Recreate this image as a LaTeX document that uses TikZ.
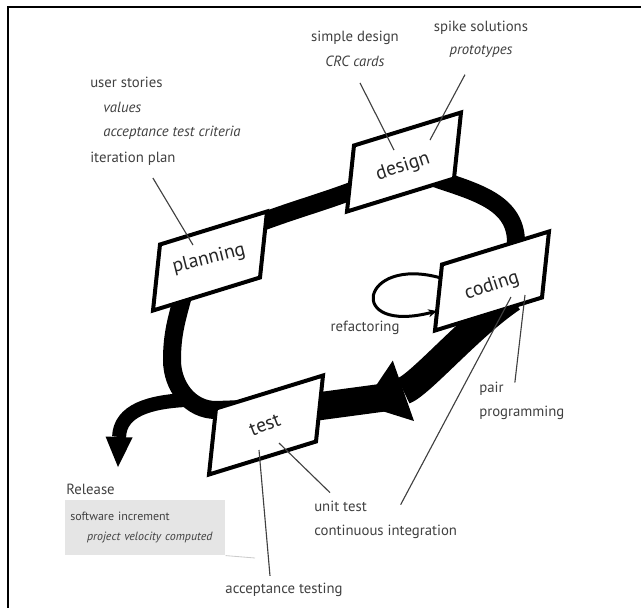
\documentclass[tikz,border=0pt]{standalone}
\usepackage{fontspec}
\setmainfont{PT Sans}
\usetikzlibrary{arrows.meta,calc,backgrounds}

\begin{document}
\begin{tikzpicture}[x=0.025cm, y=0.025cm,
					cardline/.style={draw=black,
					line width=0.1cm,
					fill=white},
					cardtext/.style={inner sep=0pt,
					text=black!85,
					font=\fontsize{14}{16}\selectfont},
					notenode/.style={inner sep=0pt,
					align=left,
					text=black!75,
					font=\fontsize{10.5}{17.5}\selectfont},
					loopband/.style={line width=0.45cm, black},
					wideband/.style={line width=0.7cm, black},
					releaseband/.style={line width=0.35cm, black},
					pointer/.style={black!75, line width=0.8pt}
					]

% fixed size, as the scanned page
\useasboundingbox (0,0) rectangle (641,-608);
\draw[line width=1.4pt] (7,-7) -- (641,-7);
\draw[line width=1.4pt] (8,-7) -- (8,-608);

%card centres
\coordinate (planningcard) at (210,-261);
\coordinate (designcard) at (404,-162);
\coordinate (codingcard) at (492,-281);
\coordinate (testcard) at (266,-425);

%card texts
\node[cardtext, rotate=14] (planning) at ($(planningcard)+(-1,2)$) {planning};
\node[cardtext, rotate=18] (design) at ($(designcard)+(-1,-5)$) {design};
\node[cardtext, rotate=18] (coding) at ($(codingcard)+(0,-5)$) {coding};
\node[cardtext, rotate=21] (test) at ($(testcard)+(-1,0)$) {test};

%tips of the big arrows
\coordinate (codetip) at (363,-405);
\coordinate (reltip) at (118,-467);

%the big loop and the cards go behind the texts
\begin{pgfonlayer}{background}
\draw[loopband] ($(testcard)+(-22,16)$) -- ($(testcard)+(-50,15)$) to[out=180,in=-90] ($(testcard)+(-94,65)$) to[out=90,in=-105] ($(planningcard)+(-26,-31)$);
\draw[loopband] ($(planningcard)+(43,36)$) -- ($(planningcard)+(57,41)$) to[out=20,in=200] ($(designcard)+(-55,-30)$) -- ($(designcard)+(-30,-20)$);
\draw[loopband] ($(designcard)+(25,-14)$) to[out=-20,in=90] ($(codingcard)+(24,39)$) -- ($(codingcard)+(24,10)$);
\draw[wideband, -{Triangle[length=1.07cm, width=1.6cm, line width=0pt]}] ($(codingcard)+(20,-17)$) .. controls ($(codingcard)+(-22,-45)$) and ($(codingcard)+(-72,-104)$) .. (codetip);
\draw[wideband] ($(codetip)+(25,8)$) -- ($(testcard)+(40,17)$);
%release
\draw[releaseband, -{Triangle[length=0.75cm, width=0.675cm, line width=0pt]}] ($(testcard)+(-81,25)$) .. controls ($(testcard)+(-116,23)$) and ($(testcard)+(-146,15)$) .. (reltip);

%slanted cards
\draw[cardline] ($(planningcard)+(-57,-49.5)$) -- ++(107,33) -- ++(7,66) -- ++(-107,-33) -- cycle;
\draw[cardline] ($(designcard)+(-57,-49.5)$) -- ++(107,33) -- ++(7,66) -- ++(-107,-33) -- cycle;
\draw[cardline] ($(codingcard)+(-57,-49.5)$) -- ++(107,33) -- ++(7,66) -- ++(-107,-33) -- cycle;
\draw[cardline] ($(testcard)+(-57,-49.5)$) -- ++(107,33) -- ++(7,66) -- ++(-107,-33) -- cycle;
\end{pgfonlayer}

%refactoring loop
\draw[line width=0.075cm, -{Stealth[length=0.22cm, width=0.2cm]}] ($(codingcard)+(-51,3)$) .. controls ($(codingcard)+(-132,26)$) and ($(codingcard)+(-147,-54)$) .. ($(codingcard)+(-55,-30)$);

%notes
\node[notenode, anchor=north west] (userstories) at (90,-77) {user stories\\\hspace*{0.33cm}\textit{values}\\\hspace*{0.33cm}\textit{acceptance test criteria}};
\node[notenode, anchor=west] (iterplan) at (90,-159) {iteration plan};
\node[notenode, align=center] (simpledesign) at (355,-49) {simple design\\\textit{CRC cards}};
\node[notenode, align=center, font=\fontsize{10.5}{16.5}\selectfont] (spike) at (481,-39) {spike solutions\\\textit{prototypes}};
\node[notenode] (refactoring) at (365,-328) {refactoring};
\node[notenode, anchor=west] (pairprog) at (479,-401) {pair\\programming};
\node[notenode, anchor=west] (unittest) at (314,-520) {unit test\\continuous integration};
\node[notenode] (acctest) at (284,-590) {acceptance testing};
\node[notenode, anchor=west] (release) at (66,-489) {Release};
\node[notenode, fill=black!10, font=\fontsize{8.5}{14}\selectfont, text width=3.75cm, inner xsep=0.125cm, minimum height=1.375cm, anchor=north west] (relbox) at (65,-500) {software increment\\\hspace*{0.42cm}\textit{project velocity computed}};
\coordinate (relend) at (255,-558);
\draw[black!20, line width=0.6pt] (relbox.south east) -- (relend);

%pointers
\draw[pointer] ($(iterplan.south)+(20,-12)$) -- ($(planningcard)+(-17,16)$);
\draw[pointer] ($(simpledesign.south)+(5,-16)$) -- ($(designcard)+(-10,12)$);
\draw[pointer] ($(spike.south)+(-16,-17)$) -- ($(designcard)+(26,22)$);
\draw[pointer] ($(pairprog.north)+(-7,-1)$) -- ($(codingcard)+(33,-14)$);
\draw[pointer] ($(unittest.north)+(15,-4)$) -- ($(codingcard)+(19,-16)$);
\draw[pointer] ($(unittest.north west)+(16,8)$) -- ($(testcard)+(13,-18)$);
\draw[pointer] ($(acctest.north)+(-14,7)$) -- ($(testcard)+(-7,-25)$);

\end{tikzpicture}
\end{document}
